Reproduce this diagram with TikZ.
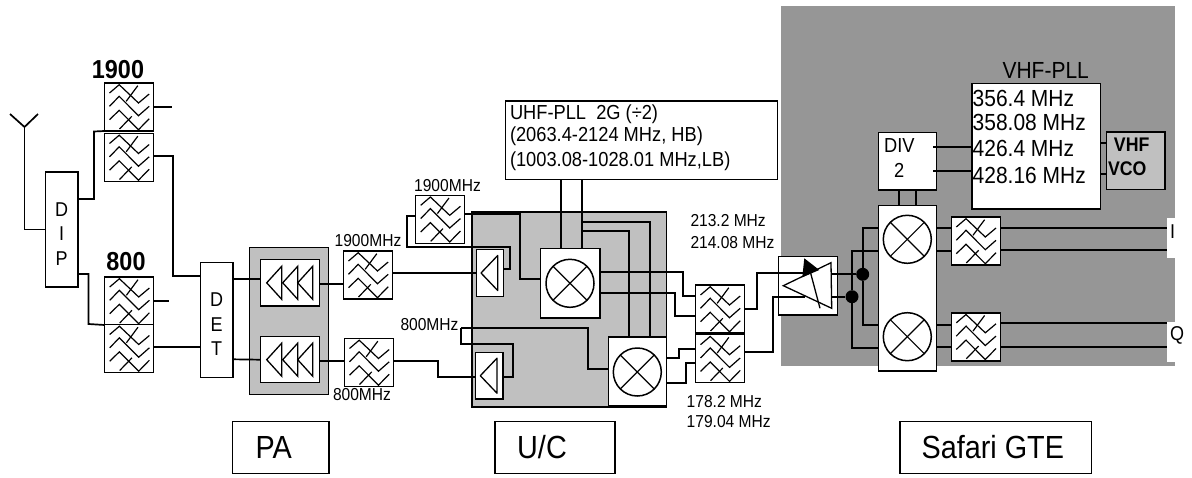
\documentclass[tikz,border=0pt]{standalone}
\usepackage{fontspec}
\setmainfont[FakeStretch=0.9]{Liberation Sans}
\definecolor{pagray}{HTML}{C0C0C0}
\definecolor{gtegray}{HTML}{969696}
\tikzset{
	box/.style={draw,fill=white,line width=1.5,inner sep=0,outer sep=0},
	shade/.style={box,fill=#1},
	filterbox/.style={box,minimum width=49,minimum height=48},
	lab/.style={inner sep=0,outer sep=0,font=\fontsize{17.3}{20}\selectfont},
	mid/.style={lab,font=\fontsize{20.3}{24}\selectfont},
	big/.style={lab,font=\fontsize{23.3}{27}\selectfont},
	head/.style={lab,font=\fontsize{26}{29}\selectfont\bfseries},
	tag/.style={box,font=\fontsize{32}{35}\selectfont},
	letters/.style={lab,align=center,font=\fontsize{20}{24.5}\selectfont},
	mixer/.style={circle,draw,line width=1.5,fill=white,minimum size=48,inner sep=0,outer sep=0,
		path picture={\draw[line width=1.2] (path picture bounding box.north west)--(path picture bounding box.south east);
			\draw[line width=1.2] (path picture bounding box.north east)--(path picture bounding box.south west);}},
	wire/.style={line width=1.7},
	filtersym/.pic={
		\draw[line width=1.2] (-19.5,-14)--(-9.8,-22.3)--(9.5,-4)--(20.2,-13);
		\draw[line width=1.2] (-19.5,-0.7)--(-9.8,-10.7)--(9.5,8.7)--(20.2,-0.7);
		\draw[line width=1.2] (-19.5,12.7)--(-9.8,3.3)--(9.5,22.7)--(20.2,11.7);
		\draw[line width=1.2] (-2.8,-5.7)--(8.8,-21.3);
		\draw[line width=1.2] (-9.5,22)--(2.8,9.3);
	},
	ampsym/.pic={
		\draw[line width=1.3,line join=round] (7.7,-17.5)--(-9,0)--(7.7,17.5)--cycle;
	},
	triplesym/.pic={
		\foreach \t in {-23.3,-7.3,7.7}
			\draw[line width=1.3] (\t+15,-16.5)--(\t,0)--(\t+15,16.5)--cycle;
	}
}
\begin{document}
\begin{tikzpicture}[x=1pt,y=-1pt]
	\useasboundingbox (0,0) rectangle (1192,477);
	% grey backgrounds
	\node[shade=gtegray,draw=none,minimum width=394,minimum height=360] (gte) at (978,186) {};
	\node[shade=pagray,minimum width=78.6,minimum height=147] (pa) at (289,320.8) {};
	\node[shade=pagray,minimum width=194.7,minimum height=195] (uc) at (569.3,309.5) {};
	% white blocks
	\node[box,minimum width=32.5,minimum height=115] (dip) at (61.7,229.5) {};
	\node[box,minimum width=32.7,minimum height=115.4] (det) at (216.6,320) {};
	\node[letters] (diptext) at (61.7,234) {D\\I\\P};
	\node[letters] (dettext) at (216.6,324.5) {D\\E\\T};
	\node[box,minimum width=59.4,minimum height=46.3] (amphi) at (290,282.8) {};
	\node[box,minimum width=59.4,minimum height=46] (amplo) at (290,359.7) {};
	\node[box,minimum width=27.4,minimum height=47.4] (drvhi) at (490,273) {};
	\node[box,minimum width=27.3,minimum height=46.7] (drvlo) at (489.3,375.7) {};
	\node[box,minimum width=59.3,minimum height=69.3] (mxhi) at (570.3,283.3) {};
	\node[box,minimum width=58.4,minimum height=68.7] (mxlo) at (637.5,371.3) {};
	\node[box,minimum width=59,minimum height=58.3] (vga) at (807.8,285.8) {};
	\node[box,minimum width=58.4,minimum height=57.3] (div) at (907.5,161.3) {};
	\node[box,minimum width=58.4,minimum height=165.3] (iqmix) at (907.5,288.3) {};
	\node[box,minimum width=128.3,minimum height=125.7] (vhf) at (1036.2,146.2) {};
	\node[shade=pagray,minimum width=58.7,minimum height=57.7] (vco) at (1135.7,160.8) {};
	\node[box,minimum width=271.6,minimum height=78.7] (uhf) at (641.5,140.3) {};
	% filters
	\foreach \name/\x/\y in {
		fa/129/107,fb/129/157.5,fc/129.2/301,fd/129.2/348.5,
		fe/368/275,ff/369/362.5,fg/440.2/219.3,
		fh/720/309,fi/720/358.7,fj/975.8/241,fk/975.8/336.8}{
		\node[filterbox] (\name) at (\x,\y) {};
		\pic at (\name) {filtersym};
	}
	% symbols
	\pic at (amphi) {triplesym};
	\pic at (amplo) {triplesym};
	\pic at (drvhi) {ampsym};
	\pic at (drvlo) {ampsym};
	\node[mixer] (cra) at (570,283.3) {};
	\node[mixer] (crb) at (637.3,372) {};
	\node[mixer] (crc) at (907.3,239.3) {};
	\node[mixer] (crd) at (907.3,336.7) {};
	% antenna
	\coordinate (ant) at (24.5,127);
	\coordinate (antl) at (10,114);
	\coordinate (antr) at (38,114);
	\draw[wire] (antl)--(ant)--(antr);
	\draw[wire] (ant)|-(dip.west);
	% left side
	\draw[wire] (dip.east |- 0,199)-|(94,131.5)--(fa.south west);
	\draw[wire] (dip.east |- 0,274)-|(88.5,324)--(fc.south west);
	\coordinate (stuba) at (172,107);
	\coordinate (stubc) at (168.7,301);
	\draw[wire] (fa.east)--(stuba);
	\draw[wire] (fc.east)--(stubc);
	\draw[wire] (fb.east |- 0,156)-|(173,276)--(det.west |- 0,276);
	\draw[wire] (fd.east |- 0,347)--(det.west |- 0,347);
	\draw[wire] (det.east |- 0,279.3)--(amphi.west |- 0,279.3);
	\draw[wire] (det.east |- 0,359.3)--(amplo.west);
	\draw[wire] (amphi.east |- 0,284.3)--(fe.west |- 0,284.3);
	\draw[wire] (amplo.east |- 0,361)--(ff.west |- 0,361);
	% up converter
	\draw[wire] (fe.east |- 0,272.7)--(drvhi.west |- 0,272.7);
	\draw[wire] (ff.east |- 0,361)-|(438.3,376.7)--(drvlo.west |- 0,376.7);
	\draw[wire] (fg.east |- 0,213.7)-|(520.3,279.3)--(mxhi.west |- 0,279.3);
	\draw[wire] (fg.west |- 0,216)-|(406.7,246.7)-|(510.3,269.3)--(drvhi.east |- 0,269.3);
	\coordinate (lbin) at (461,328.3);
	\draw[wire] (lbin)-|(588.3,368.7)--(mxlo.west |- 0,368.7);
	\draw[wire] (lbin)|-(513.3,344.3)|-(drvlo.east |- 0,376.7);
	\draw[wire] (uhf.south -| 560.7,0)--(mxhi.north -| 560.7,0);
	\draw[wire] (uhf.south -| 582,0)--(mxhi.north -| 582,0);
	\draw[wire] (582,222.3)-|(mxlo.north -| 649.7,0);
	\draw[wire] (582,231)-|(mxlo.north -| 629,0);
	\draw[wire] (mxhi.east |- 0,272)-|(683.3,295.7)--(fh.west |- 0,295.7);
	\draw[wire] (mxhi.east |- 0,293.3)-|(675.3,316)--(fh.west |- 0,316);
	\draw[wire] (mxlo.east |- 0,358.3)-|(679.3,348.7)--(fi.west |- 0,348.7);
	\draw[wire] (mxlo.east |- 0,382.7)-|(686,363.3)--(fi.west |- 0,363.3);
	\draw[wire] (fh.east)-|(756.7,273.3)--(vga.west |- 0,273.3);
	\draw[wire] (fi.east |- 0,352.3)-|(772.7,296.7)--(vga.west |- 0,296.7);
	% gain stage
	\draw[wire] (vga.west |- 0,273.3)--(803,273.3);
	\draw[wire] (vga.west |- 0,296.7)--(805,296.7);
	\draw[line width=1.3] (783.3,285.7)--(831,262.7)--(831.7,308.3)--cycle;
	\draw[line width=1.3] (810.7,273.3)--(820,308.3);
	\fill (804.3,258.3)--(819.3,270)--(802.3,277.3)--cycle;
	\node[circle,fill=black,minimum size=13,inner sep=0] (dota) at (862.7,274.3) {};
	\node[circle,fill=black,minimum size=13,inner sep=0] (dotb) at (852,296.7) {};
	\draw[wire] (831,274.3)--(dota);
	\draw[wire] (831,296.7)--(dotb);
	\draw[wire] (dota)|-(iqmix.west |- 0,227.7);
	\draw[wire] (dota)|-(iqmix.west |- 0,325);
	\draw[wire] (dotb)|-(iqmix.west |- 0,250.7);
	\draw[wire] (dotb)|-(iqmix.west |- 0,347.7);
	% gte side
	\draw[wire] (div.south -| 899.3,0)--(iqmix.north -| 899.3,0);
	\draw[wire] (div.south -| 915.7,0)--(iqmix.north -| 915.7,0);
	\draw[wire] (933.3,147.3)--(vhf.west |- 0,147.3);
	\draw[wire] (933.3,170.7)--(vhf.west |- 0,170.7);
	\draw[wire] (vhf.east |- 0,143)--(vco.west |- 0,143);
	\draw[wire] (vhf.east |- 0,174)--(vco.west |- 0,174);
	\draw[wire] (iqmix.east |- 0,228)--(fj.west |- 0,228);
	\draw[wire] (iqmix.east |- 0,251.3)--(fj.west |- 0,251.3);
	\draw[wire] (iqmix.east |- 0,325)--(fk.west |- 0,325);
	\draw[wire] (iqmix.east |- 0,346.7)--(fk.west |- 0,346.7);
	% I and Q outputs
	\node[lab,fill=white,minimum width=24,minimum height=40] (iout) at (1179,238) {};
	\node[lab,fill=white,minimum width=24,minimum height=40] (qout) at (1179,341.7) {};
	\node[lab,font=\fontsize{20}{22}\selectfont] (itext) at (1172.7,232) {I};
	\node[lab,font=\fontsize{20}{22}\selectfont] (qtext) at (1177,335) {Q};
	\draw[wire] (fj.east |- 0,227.7)--(iout.west |- 0,227.7);
	\draw[wire] (fj.east |- 0,250.3)--(iout.west |- 0,250.3);
	\draw[wire] (fk.east |- 0,323.3)--(qout.west |- 0,323.3);
	\draw[wire] (fk.east |- 0,346.7)--(qout.west |- 0,346.7);
	% texts
	\node[head] (band1) at (118,70) {1900};
	\node[head] (band2) at (126,262) {800};
	\node[lab] (la) at (368,241) {1900MHz};
	\node[lab] (lb) at (362,395) {800MHz};
	\node[lab] (lc) at (447.5,186) {1900MHz};
	\node[lab] (ld) at (429.5,325) {800MHz};
	\node[lab,anchor=west] (le) at (690.5,221) {213.2 MHz};
	\node[lab,anchor=west] (lf) at (690.5,242.7) {214.08 MHz};
	\node[lab,anchor=west] (lg) at (686.7,402) {178.2 MHz};
	\node[lab,anchor=west] (lh) at (686.7,422) {179.04 MHz};
	\node[mid,anchor=west] (ua) at (510,114) {UHF-PLL\ \ 2G (÷2)};
	\node[mid,anchor=west] (ub) at (510,136) {(2063.4-2124 MHz, HB)};
	\node[mid,anchor=west] (uc1) at (510,161) {(1003.08-1028.01 MHz,LB)};
	\node[big] (va) at (1045.7,70.7) {VHF-PLL};
	\node[big,anchor=west] (vb) at (972.7,98.3) {356.4 MHz};
	\node[big,anchor=west] (vc) at (972.7,122.7) {358.08 MHz};
	\node[big,anchor=west] (vd) at (972.7,148.3) {426.4 MHz};
	\node[big,anchor=west] (ve) at (972.7,175) {428.16 MHz};
	\node[mid] (da) at (899.3,145.7) {DIV};
	\node[mid] (db) at (899.3,170) {2};
	\node[lab,font=\fontsize{19.7}{22}\selectfont\bfseries] (ca) at (1131.7,145) {VHF};
	\node[lab,font=\fontsize{19.7}{22}\selectfont\bfseries] (cb) at (1127.3,169) {VCO};
	% captions
	\node[tag,minimum width=96.3,minimum height=51.6] (tpa) at (280.8,447.5) {\hspace*{-14pt}PA};
	\node[tag,minimum width=120,minimum height=51.6] (tuc) at (555,447.5) {\hspace*{-26pt}U/C};
	\node[tag,minimum width=191.7,minimum height=51.6] (tgte) at (995.8,447.5) {\hspace*{-6pt}Safari GTE};
\end{tikzpicture}
\end{document}
